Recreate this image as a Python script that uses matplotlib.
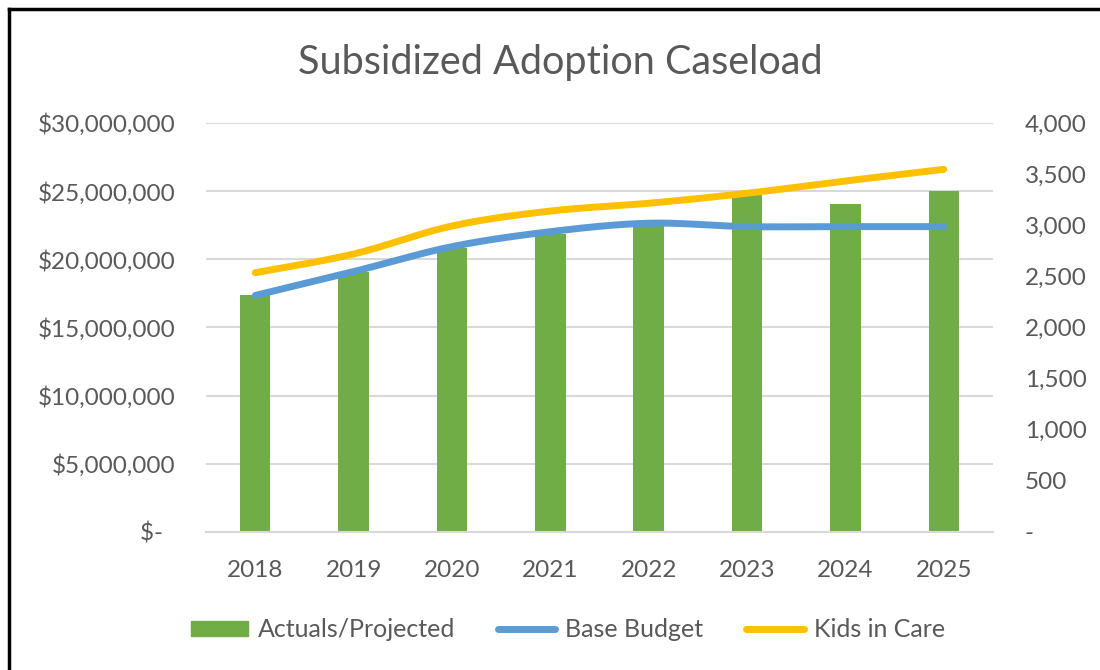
import numpy as np
import matplotlib
matplotlib.use('Agg')
import matplotlib.pyplot as plt
from matplotlib.lines import Line2D
from matplotlib.patches import Patch
from matplotlib.ticker import FuncFormatter, MultipleLocator

plt.rcParams['font.family'] = ['Lato', 'DejaVu Sans']

#Chart data
years = ['2018', '2019', '2020', '2021', '2022', '2023', '2024', '2025']
actuals = [17.35e6, 19.1e6, 20.8e6, 21.85e6, 22.5e6, 24.75e6, 24.05e6, 25.0e6]
base_budget = [17.35e6, 19.1e6, 20.93e6, 22.03e6, 22.65e6, 22.4e6, 22.4e6, 22.4e6]
kids_in_care = [2536, 2719, 2993, 3139, 3215, 3313, 3433, 3547]

grey = '#595959'
green = '#70AD47'
blue = '#5B9BD5'
gold = '#FFC000'


def smooth(y, n=30):
    #Catmull-Rom curve through the points, like Excel smoothed lines
    y = np.asarray(y, dtype=float)
    x = np.arange(len(y), dtype=float)
    px = np.concatenate([[x[0]], x, [x[-1]]])
    py = np.concatenate([[y[0]], y, [y[-1]]])
    xs, ys = [], []
    for i in range(1, len(px) - 2):
        t = np.linspace(0, 1, n)
        for p, out in ((px, xs), (py, ys)):
            p0, p1, p2, p3 = p[i - 1], p[i], p[i + 1], p[i + 2]
            out.extend(0.5 * ((2 * p1) + (-p0 + p2) * t +
                              (2 * p0 - 5 * p1 + 4 * p2 - p3) * t ** 2 +
                              (-p0 + 3 * p1 - 3 * p2 + p3) * t ** 3))
    return np.array(xs), np.array(ys)


fig = plt.figure(figsize=(11, 6.7), dpi=100)
ax = fig.add_axes([0.1873, 0.2060, 0.7154, 0.6104])
ax2 = ax.twinx()

x = np.arange(len(years))
ax.bar(x, actuals, width=0.31, color=green, zorder=2)
bx, by = smooth(base_budget)
ax.plot(bx, by, color=blue, lw=5, solid_capstyle='round', zorder=3)
kx, ky = smooth(kids_in_care)
ax2.plot(kx, ky, color=gold, lw=5, solid_capstyle='round', zorder=3)

ax.set_xlim(-0.5, len(years) - 0.5)
ax.set_ylim(0, 30e6)
ax2.set_ylim(0, 4000)
ax.yaxis.set_major_locator(MultipleLocator(5e6))
ax2.yaxis.set_major_locator(MultipleLocator(500))
ax.yaxis.set_major_formatter(FuncFormatter(lambda v, p: '$-  ' if v == 0 else '${:,.0f}'.format(v)))
ax2.yaxis.set_major_formatter(FuncFormatter(lambda v, p: '-' if v == 0 else '{:,.0f}'.format(v)))
ax.set_xticks(x)
ax.set_xticklabels(years)

ax.grid(axis='y', color='#D9D9D9', lw=1.5, zorder=0)
ax.set_axisbelow(True)
for a in (ax, ax2):
    for s in a.spines.values():
        s.set_visible(False)
ax.spines['bottom'].set_visible(True)
ax.spines['bottom'].set_color('#D9D9D9')
ax.spines['bottom'].set_linewidth(1.5)
ax.tick_params(axis='y', length=0, pad=22, labelsize=17.5, labelcolor=grey)
ax.tick_params(axis='x', length=0, pad=20, labelsize=17.5, labelcolor=grey)
ax2.tick_params(axis='y', length=0, pad=23, labelsize=17.5, labelcolor=grey)

fig.text(0.509, 0.907, 'Subsidized Adoption Caseload', ha='center', va='center',
         fontsize=28.5, color=grey)

handles = [Patch(facecolor=green, edgecolor=green),
           Line2D([0], [0], color=blue, lw=5, solid_capstyle='round'),
           Line2D([0], [0], color=gold, lw=5, solid_capstyle='round')]
fig.legend(handles, ['Actuals/Projected', 'Base Budget', 'Kids in Care'],
           loc='center', bbox_to_anchor=(0.516, 0.06), ncol=3, frameon=False,
           fontsize=18, labelcolor=grey, handlelength=2.3, handleheight=0.55,
           handletextpad=0.4, columnspacing=1.7)

#Black border on the left and top like the screenshot
fig.add_artist(Line2D([0.008, 0.008], [0, 0.987], color='black', lw=2.5, transform=fig.transFigure))
fig.add_artist(Line2D([0.008, 1], [0.987, 0.987], color='black', lw=2.5, transform=fig.transFigure))

fig.savefig('out.png', dpi=100)
